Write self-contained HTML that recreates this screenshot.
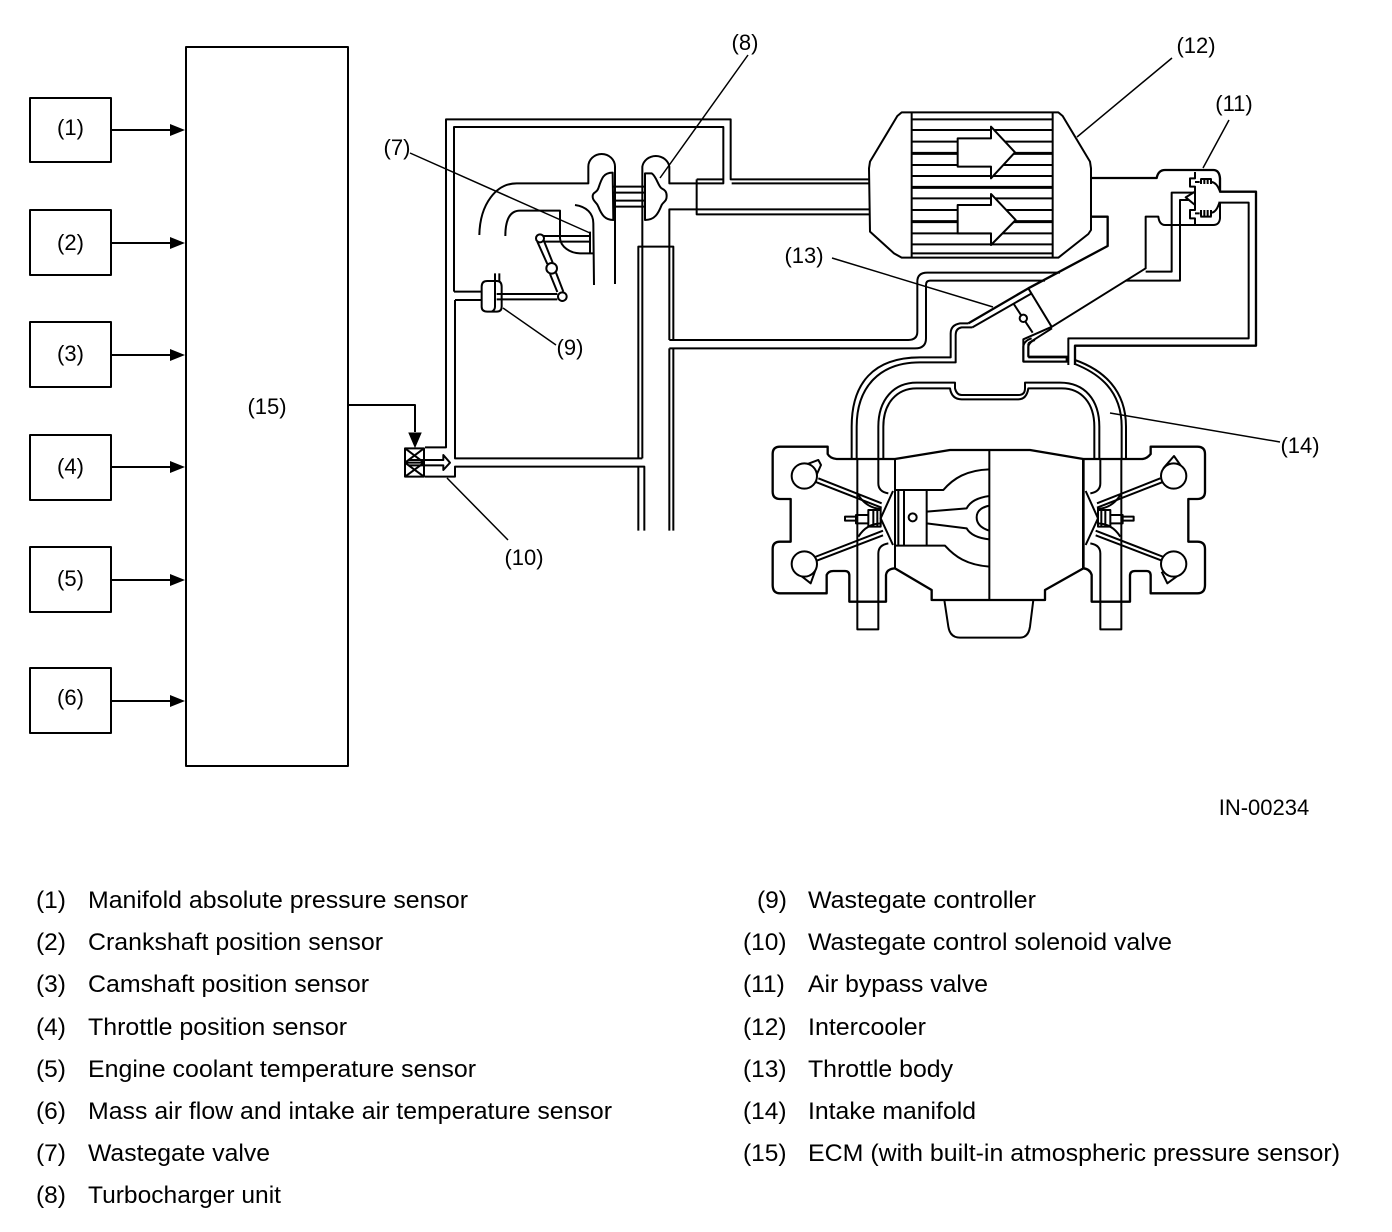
<!DOCTYPE html>
<html><head><meta charset="utf-8"><style>
html,body{margin:0;padding:0;background:#fff}
svg{display:block}
text{font-family:"Liberation Sans",sans-serif;fill:#000}
.d{font-size:22px}.l{font-size:24.5px}
.s{fill:none;stroke:#000;stroke-linejoin:round}
</style></head><body>
<svg width="1392" height="1232" viewBox="0 0 1392 1232">
<rect width="1392" height="1232" fill="#fff"/>

<!-- left blocks -->
<g class="s" stroke-width="2">
<rect x="30" y="98" width="81" height="64"/>
<rect x="30" y="210" width="81" height="65"/>
<rect x="30" y="322" width="81" height="65"/>
<rect x="30" y="435" width="81" height="65"/>
<rect x="30" y="547" width="81" height="65"/>
<rect x="30" y="668" width="81" height="65"/>
<rect x="186" y="47" width="162" height="719"/>
<path d="M112 130H172M112 243H172M112 355H172M112 467H172M112 580H172M112 701H172"/>
<path d="M348 405H415V432"/>
</g>
<path d="M170 124L185 130L170 136ZM170 237L185 243L170 249ZM170 349L185 355L170 361ZM170 461L185 467L170 473ZM170 574L185 580L170 586ZM170 695L185 701L170 707Z"/>

<!-- turbo / piping (zoom-1 coordinates) -->
<g transform="translate(400 90) scale(.33333)" class="s" stroke-width="6">
<path d="M75 1072H138V88H992V268H1410"/>
<path d="M1410 280H995"/>
<path d="M162 605V111H970V280H808V230A41 38 0 0 0 727 230V1105"/>
<path d="M162 605H245M165 630H245M165 630V1105H727"/>
<path d="M75 1160H165V1130H733V1322"/>
<path d="M715 1105V470H820V750M715 1130V1322"/>
<path d="M808 750V358H1410M808 750H1320M808 775H1320M808 775V1322M820 775V1322"/>
<path d="M890 268H970M890 268V373H1410"/>
<path d="M238 435C240 340 290 280 350 280H565V230A40 38 0 0 1 645 230V582"/>
<path d="M316 438C316 390 330 362 360 362H480V445C482 470 510 490 540 490H580"/>
<path d="M525 345C560 350 580 370 580 400L582 585M570 425V490"/>
<path d="M430 438H570M430 455H570"/>
<path d="M638 248C610 248 605 265 595 295C590 310 578 305 578 320C578 335 590 335 595 350C605 375 615 390 640 390Z"/>
<path d="M735 250H755C770 260 775 290 785 295C795 300 800 305 800 318C800 335 790 335 785 345C775 370 765 390 735 390Z"/>
<path d="M640 290H735M640 308H735M640 332H735M640 350H735"/>
<path d="M412 455L442 522M430 448L458 518M450 552L472 606M468 548L490 605"/>
<circle cx="420" cy="445" r="12" fill="#fff"/><circle cx="455" cy="535" r="16" fill="#fff"/><circle cx="487" cy="620" r="13" fill="#fff"/>
<path d="M262 573H290Q305 573 305 590V650Q305 665 290 665H262Q245 665 245 650V590Q245 573 262 573Z"/>
<path d="M285 550V650Q285 660 275 665M298 550V575"/>
<path d="M290 612H472M290 628H472"/>
<rect x="15" y="1075" width="57" height="85"/>
<path d="M15 1118H72M15 1075L72 1118M72 1075L15 1118M15 1118L72 1160M72 1118L15 1160"/>
<path d="M25 1110H130V1095L150 1118L130 1140V1126H25"/>
</g>
<path d="M409 433H421L415 447Z" stroke="#000" stroke-width="1"/>

<!-- intercooler + throttle (zoom-2 coordinates) -->
<g transform="translate(840 90) scale(.33333)" class="s" stroke-width="6">
<path d="M185 67H655L668 78L750 215L753 235V420L745 432L655 503H185L162 490L90 425L87 235L90 215L172 78Z"/>
<path d="M215 67V503M638 67V503"/>
<path d="M215 88H638M215 120H638M215 155H638M215 225H638M215 258H638M215 325H638M215 360H638M215 430H638M215 463H638M215 490H638"/>
<path stroke-width="9" d="M215 190H638M215 292H638M215 395H638"/>
<path fill="#fff" d="M353 145H453V110L525 187L453 265V230H353Z"/>
<path fill="#fff" d="M353 345H453V312L527 390L453 465V430H353Z"/>
<path stroke-width="7" d="M753 264H950Q955 240 975 240H1120Q1138 240 1140 265V305H1248V767H705V825"/>
<path d="M1140 338H1226V745H685V825"/>
<path d="M1140 338V385Q1138 405 1120 405H975Q958 405 955 380H917V535L636 710L550 748V815H685"/>
<path d="M565 760V800H685M565 760L636 715"/>
<path stroke-width="7" d="M753 380H803V468L565 595L385 700"/>
<path d="M575 610L397 712"/>
<path d="M660 548H262Q232 548 232 575V725Q232 750 205 750H-60M615 572H270Q258 572 258 585V745Q258 775 225 775H-60"/>
<path d="M565 595L636 712M520 640L578 728M385 700H360Q332 705 332 730V750M397 712H365Q347 715 347 735V750"/>
<circle cx="550" cy="685" r="11" fill="#fff"/>
<path d="M857 572H1020V330H1045M917 545H995V308H1062"/>
</g>

<!-- air bypass valve internals (zoom-4 coordinates) -->
<g transform="translate(1165 160) scale(.33333)" class="s" stroke-width="6">
<path d="M62 112L90 95V135Z" fill="#fff"/>
<path d="M90 95V80H75V55H90V36M90 135V150H75V175H90V195"/>
<path d="M90 66H104M90 160H104M140 66Q155 68 164 92M140 158Q155 156 164 125"/>
<path d="M106 57H140M108 57V72M118 57V72M128 57V72M138 57V72"/>
<path d="M106 170H140M108 150V170M118 150V170M128 150V170M138 150V170"/>
</g>

<!-- manifold + engine (zoom-3 coordinates) -->
<g transform="translate(760 340) scale(.33333)" class="s" stroke-width="6">
<defs>
<g id="head">
<path d="M175 415L365 490M165 425L365 503M165 651L369 572M170 662L369 586"/>
<path d="M399 453L362 535L399 615"/>
<path d="M295 465Q320 505 365 507M295 590Q320 550 365 550"/>
<path d="M255 530H288V542H255ZM288 525H325V550H288ZM325 510H362V560H325ZM340 510V560M352 510V560"/>
<path d="M292 357V868H355V640Q355 615 385 610M355 357V430Q355 455 385 460"/>
</g>
</defs>
<use href="#head"/>
<use href="#head" transform="translate(1376 0) scale(-1 1)"/>
<path d="M135 375L175 360L183 375L165 415M120 705L152 730L170 680"/>
<path d="M1210 385L1242 348L1275 395M1205 695L1222 730L1270 695"/>
<g fill="#fff">
<circle cx="133" cy="408" r="38"/><circle cx="133" cy="672" r="38"/>
<circle cx="1241" cy="408" r="38"/><circle cx="1241" cy="672" r="38"/>
</g>
<path d="M587 0V67H480C360 67 290 140 290 260V357M572 0V52H480C340 52 275 130 275 260V357"/>
<path d="M945 60C1030 90 1098 150 1098 260V357M945 72C1015 100 1085 150 1085 260V357"/>
<path d="M805 50V20Q808 5 825 0M790 65V20Q792 2 815 -5M790 65H920V52H805"/>
<path d="M355 357V260C355 180 400 128 470 128H585V145Q590 165 605 165H775Q795 165 795 145V128H900C975 128 1018 180 1018 260V357"/>
<path d="M370 357V260C370 190 410 145 470 145H570Q575 178 605 178H775Q800 178 805 145H905C965 145 1003 190 1003 260V357"/>
<path stroke-width="7" d="M60 320Q38 320 38 342V455Q38 477 60 477H92V605H60Q38 605 38 627V735Q38 760 60 760H200V705Q205 693 220 693H255Q268 693 268 707V785H378V705Q380 687 405 685L515 750V780H855V750L970 685Q990 687 995 705V785H1110V707Q1110 693 1125 693H1160Q1172 693 1172 707V760H1312Q1335 760 1335 735V627Q1335 605 1312 605H1285V477H1312Q1335 477 1335 455V342Q1335 320 1312 320H1172V342Q1160 357 1145 357H970L810 330H570L405 357H230Q210 355 203 342V320Z"/>
<path d="M405 357V685M688 330V780"/>
<path stroke-width="8" d="M970 357V685"/>
<rect x="405" y="450" width="95" height="167"/>
<path d="M415 450V617M432 450V617"/>
<circle cx="458" cy="532" r="12"/>
<path d="M500 515L620 505Q635 475 688 468M500 550L620 565Q635 592 688 598M688 497Q650 505 650 532Q650 560 688 572"/>
<path d="M500 450H550C580 415 620 390 688 388M500 617H555C585 650 620 675 688 680"/>
<path d="M553 780L565 860Q570 893 600 893H780Q805 893 810 860L820 780"/>
</g>

<!-- leaders -->
<g class="s" stroke-width="1.5">
<path d="M410 153L590 233M748 55L660 178M503 308L556 345M447 478L508 540M1229 120L1203 168M1172 58L1077 137M832 258L993 307M1280 442L1110 413"/>
</g>

<!-- diagram labels -->
<g class="d" text-anchor="middle">
<text x="70.500" y="135">(1)</text>
<text x="70.500" y="250">(2)</text>
<text x="70.500" y="361">(3)</text>
<text x="70.500" y="474">(4)</text>
<text x="70.500" y="586">(5)</text>
<text x="70.500" y="705">(6)</text>
<text x="267" y="414">(15)</text>
<text x="397" y="155">(7)</text>
<text x="745" y="50">(8)</text>
<text x="570" y="355">(9)</text>
<text x="524" y="565">(10)</text>
<text x="1234" y="111">(11)</text>
<text x="1196" y="53">(12)</text>
<text x="804" y="263">(13)</text>
<text x="1300" y="453">(14)</text>
<text x="1264" y="815">IN-00234</text>
</g>

<!-- legend -->
<g class="l">
<text x="36" y="908">(1)</text><text x="88" y="908" textLength="380" lengthAdjust="spacingAndGlyphs">Manifold absolute pressure sensor</text>
<text x="36" y="950">(2)</text><text x="88" y="950" textLength="295" lengthAdjust="spacingAndGlyphs">Crankshaft position sensor</text>
<text x="36" y="992">(3)</text><text x="88" y="992" textLength="281" lengthAdjust="spacingAndGlyphs">Camshaft position sensor</text>
<text x="36" y="1035">(4)</text><text x="88" y="1035" textLength="259" lengthAdjust="spacingAndGlyphs">Throttle position sensor</text>
<text x="36" y="1077">(5)</text><text x="88" y="1077" textLength="388" lengthAdjust="spacingAndGlyphs">Engine coolant temperature sensor</text>
<text x="36" y="1119">(6)</text><text x="88" y="1119" textLength="524" lengthAdjust="spacingAndGlyphs">Mass air flow and intake air temperature sensor</text>
<text x="36" y="1161">(7)</text><text x="88" y="1161" textLength="182" lengthAdjust="spacingAndGlyphs">Wastegate valve</text>
<text x="36" y="1203">(8)</text><text x="88" y="1203" textLength="193" lengthAdjust="spacingAndGlyphs">Turbocharger unit</text>
<text x="757" y="908">(9)</text><text x="808" y="908" textLength="228" lengthAdjust="spacingAndGlyphs">Wastegate controller</text>
<text x="743" y="950">(10)</text><text x="808" y="950" textLength="364" lengthAdjust="spacingAndGlyphs">Wastegate control solenoid valve</text>
<text x="743" y="992">(11)</text><text x="808" y="992" textLength="180" lengthAdjust="spacingAndGlyphs">Air bypass valve</text>
<text x="743" y="1035">(12)</text><text x="808" y="1035" textLength="118" lengthAdjust="spacingAndGlyphs">Intercooler</text>
<text x="743" y="1077">(13)</text><text x="808" y="1077" textLength="145" lengthAdjust="spacingAndGlyphs">Throttle body</text>
<text x="743" y="1119">(14)</text><text x="808" y="1119" textLength="168" lengthAdjust="spacingAndGlyphs">Intake manifold</text>
<text x="743" y="1161">(15)</text><text x="808" y="1161" textLength="532" lengthAdjust="spacingAndGlyphs">ECM (with built-in atmospheric pressure sensor)</text>
</g>
</svg>
</body></html>
